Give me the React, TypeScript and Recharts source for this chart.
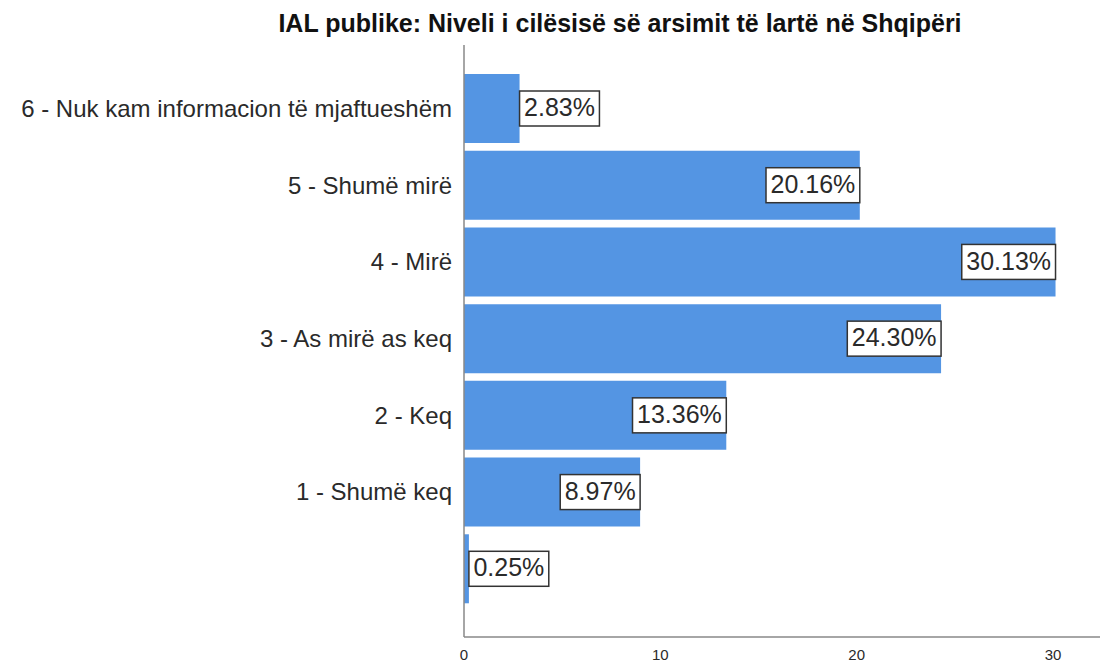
import { BarChart, Bar, XAxis, YAxis, LabelList } from 'recharts';

const categories = [
  '6 - Nuk kam informacion të mjaftueshëm',
  '5 - Shumë mirë',
  '4 - Mirë',
  '3 - As mirë as keq',
  '2 - Keq',
  '1 - Shumë keq',
  '',
];
const percents = [2.83, 20.16, 30.13, 24.3, 13.36, 8.97, 0.25];
const xTicks = [0, 10, 20, 30];

const chartData = categories.map((name, i) => ({ name, value: percents[i] }));

const FONT = 'Liberation Sans, Arial, sans-serif';
const BAR_COLOR = '#5495e3';

// rough width of the label text, Arial metrics
function textWidth(s: string, size: number) {
  let w = 0;
  for (const c of s) {
    if (c === '.') w += 0.278;
    else if (c === '%') w += 0.889;
    else w += 0.556;
  }
  return w * size;
}

function PercentLabel(props: any) {
  const { x, y, width, height, value } = props;
  const text = `${Number(value).toFixed(2)}%`;
  const size = 25;
  const boxW = textWidth(text, size) + 9;
  const boxH = 35;
  const end = x + width;
  // inside the bar end when it fits, otherwise just past it
  const left = width > boxW + 4 ? end - boxW : end;
  const cy = y + height / 2;
  return (
    <g>
      <rect x={left} y={cy - boxH / 2} width={boxW} height={boxH} fill="#fff" stroke="#333" strokeWidth={1.5} />
      <text x={left + boxW / 2} y={cy + 1} textAnchor="middle" dominantBaseline="middle" fontSize={size} fontFamily={FONT} fill="#2a2a2a">
        {text}
      </text>
    </g>
  );
}

export default function App() {
  return (
    <div style={{ position: 'relative', width: 1100, height: 656 }}>
      <div
        style={{
          position: 'absolute',
          left: 0,
          width: 1224,
          top: 1,
          textAlign: 'center',
          fontFamily: FONT,
          fontWeight: 'bold',
          fontSize: 25,
          color: '#111',
        }}
      >
        IAL publike: Niveli i cilësisë së arsimit të lartë në Shqipëri
      </div>
      <BarChart
        width={1100}
        height={656}
        data={chartData}
        layout="vertical"
        margin={{ top: 37, right: 3, left: 0, bottom: 3 }}
        barCategoryGap={4}
      >
        <XAxis
          type="number"
          domain={[0, 32.65]}
          ticks={xTicks}
          allowDataOverflow
          tickLine={false}
          axisLine={{ stroke: '#888', strokeWidth: 1.5 }}
          tick={{ fontSize: 15, fontFamily: FONT, fill: '#2a2a2a' }}
          tickMargin={6}
          height={24}
        />
        <YAxis
          type="category"
          dataKey="name"
          width={456}
          tickLine={false}
          axisLine={{ stroke: '#888', strokeWidth: 1.5 }}
          tick={{ fontSize: 24, fontFamily: FONT, fill: '#2a2a2a' }}
          tickMargin={6}
          padding={{ top: 25, bottom: 30 }}
          interval={0}
        />
        <Bar dataKey="value" fill={BAR_COLOR} isAnimationActive={false}>
          <LabelList dataKey="value" content={PercentLabel} />
        </Bar>
      </BarChart>
    </div>
  );
}
